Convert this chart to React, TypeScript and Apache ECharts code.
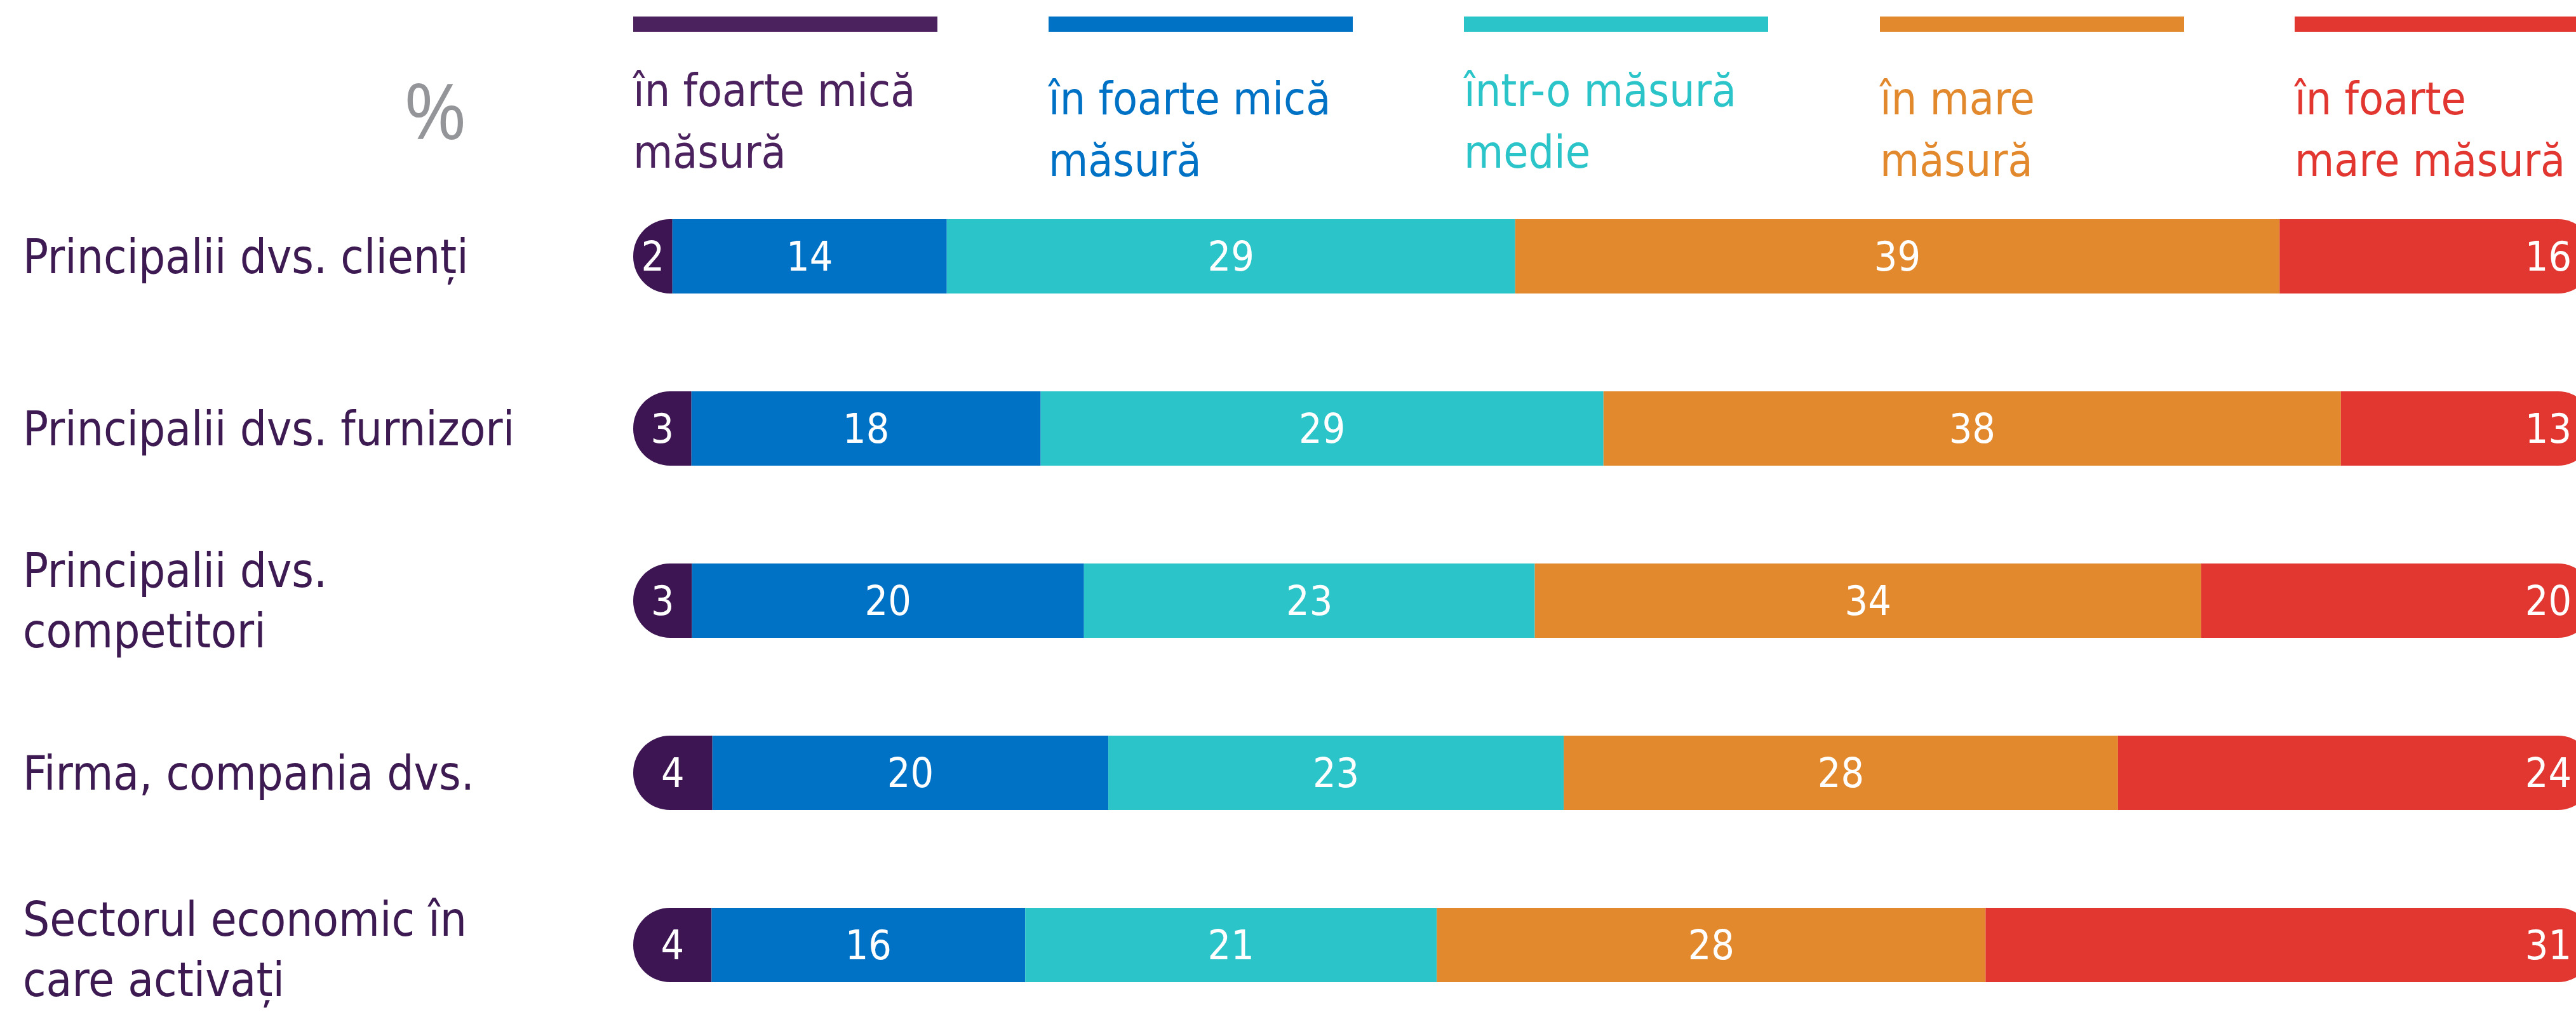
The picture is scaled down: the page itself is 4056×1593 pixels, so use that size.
import React, { useEffect, useRef } from "react";
import * as echarts from "echarts";

// ---------- data ----------
const categories = [
  "Principalii dvs. clienți",
  "Principalii dvs. furnizori",
  "Principalii dvs.\ncompetitori",
  "Firma, compania dvs.",
  "Sectorul economic în\ncare activați",
];
const seriesNames = [
  "în foarte mică\nmăsură",
  "în foarte mică\nmăsură",
  "într-o măsură\nmedie",
  "în mare\nmăsură",
  "în foarte\nmare măsură",
];
const veryLow = [2, 3, 3, 4, 4];
const low = [14, 18, 20, 20, 16];
const medium = [29, 29, 23, 23, 21];
const high = [39, 38, 34, 28, 28];
const veryHigh = [16, 13, 20, 24, 31];
const unitLabel = "%";

// ---------- styles ----------
const barColors = ["#3D1552", "#0072C6", "#2AC4C9", "#E2892E", "#E23631"];
const legendColors = ["#4B215E", "#0072C6", "#2AC4C9", "#E2892E", "#E23631"];
const catColor = "#3D1A52";
const NARROW = "'Liberation Sans Narrow', 'DejaVu Sans Condensed', 'Noto Sans', sans-serif";

const VIEW_W = 4056;
const VIEW_H = 1593;
const CANVAS_W = 4200;
const CANVAS_H = 1700;

export default function App() {
  const ref = useRef<HTMLDivElement>(null);

  useEffect(() => {
    document.body.style.margin = "0";
    document.body.style.overflow = "hidden";
    if (!ref.current) return;
    const chart = echarts.init(ref.current, undefined, { renderer: "svg" });

    const raw = [veryLow, low, medium, high, veryHigh];
    const totals = categories.map((_, i) => raw.reduce((s, arr) => s + arr[i], 0));

    const GRID_LEFT = 997;
    const GRID_TOP = 268;
    const BAND = 271;
    const BAR_END = 4083;

    const series = raw.map((arr, si) => ({
      type: "bar",
      name: seriesNames[si],
      stack: "total",
      barWidth: 117,
      itemStyle: {
        color: barColors[si],
        borderRadius:
          si === 0 ? [58, 0, 0, 58] : si === raw.length - 1 ? [0, 55, 55, 0] : 0,
      },
      label: {
        show: true,
        position: si === raw.length - 1 ? "insideRight" : "inside",
        distance: 34,
        color: "#FFFFFF",
        fontFamily: NARROW,
        fontSize: 64,
        formatter: (p: any) => String(arr[p.dataIndex]),
      },
      data: arr.map((v, i) => (v / totals[i]) * 100),
    }));

    const legendX = [997, 1651, 2305, 2960, 3613];
    const legendTextTop = [94, 107, 94, 107, 107];
    const graphics: any[] = [];
    seriesNames.forEach((n, i) => {
      graphics.push({
        type: "rect",
        shape: { x: legendX[i], y: 26, width: 479, height: 24 },
        style: { fill: legendColors[i] },
      });
      graphics.push({
        type: "text",
        x: legendX[i],
        y: legendTextTop[i],
        style: {
          text: n,
          fill: legendColors[i],
          font: `71px ${NARROW}`,
          lineHeight: 97,
          align: "left",
          verticalAlign: "top",
        },
      });
    });
    graphics.push({
      type: "text",
      x: 735,
      y: 172,
      style: {
        text: unitLabel,
        fill: "#939598",
        font: `120px 'Open Sans', 'Noto Sans', sans-serif`,
        align: "right",
        verticalAlign: "middle",
      },
    });

    chart.setOption({
      animation: false,
      grid: {
        left: GRID_LEFT,
        top: GRID_TOP,
        width: BAR_END - GRID_LEFT,
        height: BAND * categories.length,
        containLabel: false,
      },
      xAxis: {
        type: "value",
        min: 0,
        max: 100,
        show: false,
      },
      yAxis: {
        type: "category",
        inverse: true,
        data: categories,
        axisLine: { show: false },
        axisTick: { show: false },
        splitLine: { show: false },
        axisLabel: {
          align: "left",
          margin: GRID_LEFT - 36,
          color: catColor,
          fontFamily: NARROW,
          fontSize: 74,
          lineHeight: 95,
          formatter: (v: string, idx: number) => {
            const lines = v.split("\n").map((l) => `{c|${l}}`);
            if (idx === categories.length - 1) return `{sp| }\n` + lines.join("\n");
            return lines.join("\n");
          },
          rich: {
            c: { color: catColor, fontFamily: NARROW, fontSize: 74, lineHeight: 95 },
            sp: { fontSize: 2, lineHeight: 14 },
          },
        },
      },
      graphic: graphics,
      series,
    });

    return () => chart.dispose();
  }, []);

  return (
    <div style={{ width: VIEW_W, height: VIEW_H, overflow: "hidden", position: "relative" }}>
      <div ref={ref} style={{ width: CANVAS_W, height: CANVAS_H }} />
    </div>
  );
}
